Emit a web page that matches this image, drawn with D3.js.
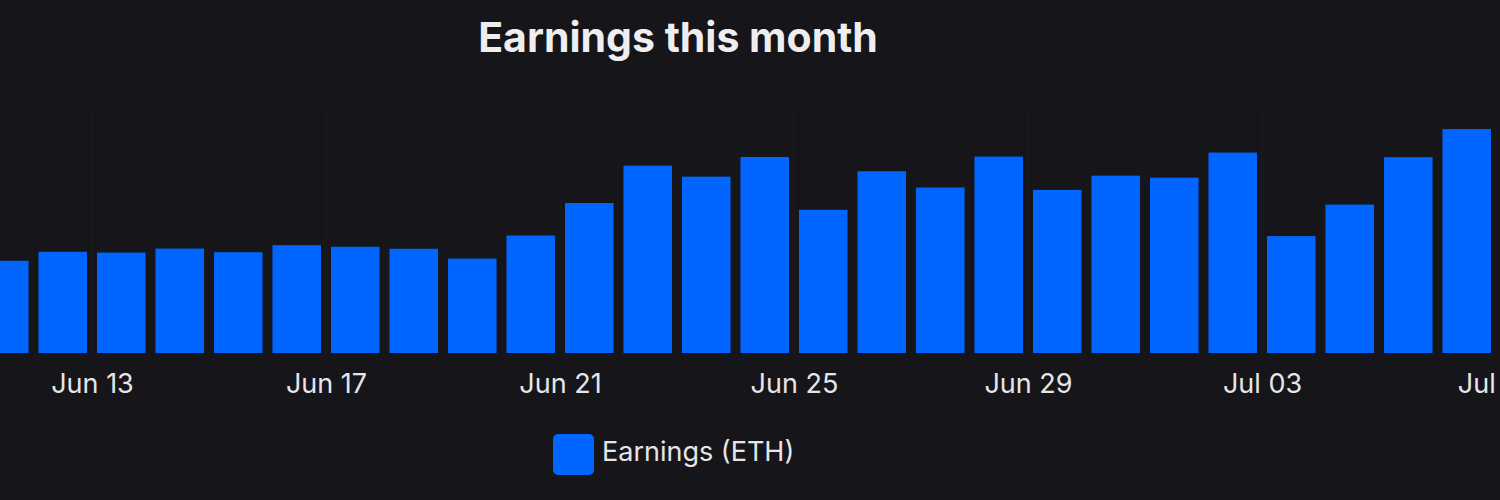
<!DOCTYPE html>
<html>
<head>
<meta charset="utf-8">
<script src="https://cdn.jsdelivr.net/npm/d3@7"></script>
<style>
  html, body { margin: 0; padding: 0; background: #16151a; }
  svg { display: block; font-family: Inter, "Noto Sans", sans-serif; }
</style>
</head>
<body>
<div id="chart"></div>
<script>
// earnings per day, Jun 11 .. Jul 06
const days = ["2023-06-11", "2023-06-12", "2023-06-13", "2023-06-14", "2023-06-15", "2023-06-16",
  "2023-06-17", "2023-06-18", "2023-06-19", "2023-06-20", "2023-06-21", "2023-06-22", "2023-06-23",
  "2023-06-24", "2023-06-25", "2023-06-26", "2023-06-27", "2023-06-28", "2023-06-29", "2023-06-30",
  "2023-07-01", "2023-07-02", "2023-07-03", "2023-07-04", "2023-07-05", "2023-07-06"];
const earnings = [0.459, 0.504, 0.500, 0.520, 0.502, 0.537, 0.529, 0.519, 0.470, 0.585,
  0.747, 0.933, 0.878, 0.976, 0.713, 0.905, 0.824, 0.978, 0.812, 0.883,
  0.873, 0.998, 0.582, 0.739, 0.975, 1.115];
const tickDays = ["2023-06-13", "2023-06-17", "2023-06-21", "2023-06-25", "2023-06-29", "2023-07-03", "2023-07-07"];
const seriesName = "Earnings (ETH)";
const chartTitle = "Earnings this month";

const W = 1500, H = 500;
const plotTop = 112, plotBottom = 353;
const parse = d3.utcParse("%Y-%m-%d");

let data = days.map((d, i) => ({ date: parse(d), value: earnings[i] }));

let svg = d3.select("#chart")
  .append("svg")
  .attr("width", W)
  .attr("height", H);

svg.append("rect")
  .attr("width", W)
  .attr("height", H)
  .attr("fill", "#16151a");

// time axis is scrolled: Jun 11 starts just off the left edge
let x = d3.scaleUtc()
  .domain([parse("2023-06-11"), parse("2023-07-07")])
  .range([-25, 1496]);

let y = d3.scaleLinear()
  .domain([0, 1.2])
  .range([plotBottom, plotTop]);

let dayW = x(parse("2023-06-12")) - x(parse("2023-06-11"));
let barW = dayW * 0.83;

// faint vertical grid
svg.append("g")
  .selectAll("line")
  .data(tickDays.map(parse))
  .enter()
  .append("line")
  .attr("x1", d => x(d))
  .attr("x2", d => x(d))
  .attr("y1", plotTop)
  .attr("y2", plotBottom)
  .attr("stroke", "#1d1c22")
  .attr("stroke-width", 1);

svg.append("g")
  .selectAll("rect")
  .data(data)
  .enter()
  .append("rect")
  .attr("x", d => x(d.date) + dayW / 2 - barW / 2)
  .attr("width", barW)
  .attr("y", d => y(d.value))
  .attr("height", d => y(0) - y(d.value))
  .attr("fill", "#0066ff");

let xAxis = svg.append("g")
  .attr("transform", translate(0, plotBottom))
  .call(d3.axisBottom(x)
    .tickValues(tickDays.map(parse))
    .tickFormat(d3.utcFormat("%b %d"))
    .tickSize(0)
    .tickPadding(21));
xAxis.select(".domain").remove();
xAxis.selectAll("text")
  .attr("fill", "#e6e6e8")
  .style("font-size", "27px")
  .style("font-family", "Inter, 'Noto Sans', sans-serif");

svg.append("text")
  .attr("x", 678)
  .attr("y", 52)
  .attr("text-anchor", "middle")
  .attr("fill", "#eeeef0")
  .style("font-size", "41px")
  .style("font-weight", "700")
  .text(chartTitle);

// legend
let legend = svg.append("g").attr("transform", translate(553, 434));
legend.append("rect")
  .attr("width", 41)
  .attr("height", 41)
  .attr("rx", 5)
  .attr("fill", "#0066ff");
legend.append("text")
  .attr("x", 49)
  .attr("y", 27)
  .attr("fill", "#e6e6e8")
  .style("font-size", "27px")
  .text(seriesName);

function translate(x, y) {
  return 'translate(' + x + ',' + y + ')';
}
</script>
</body>
</html>
